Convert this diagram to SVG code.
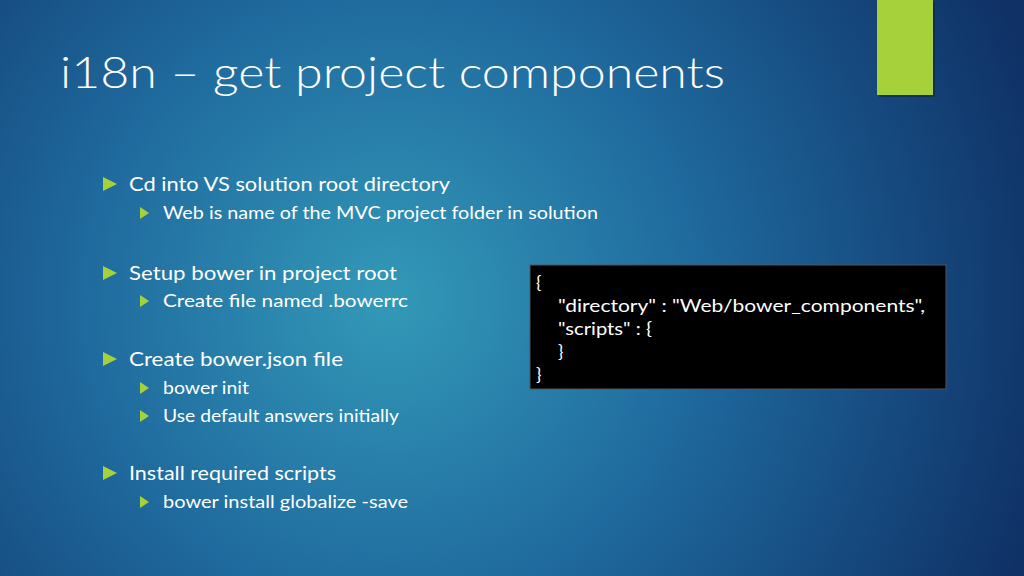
<svg xmlns="http://www.w3.org/2000/svg" width="1024" height="576" viewBox="0 0 1024 576">
<defs>
<radialGradient id="bg" cx="390" cy="300" r="680" gradientUnits="userSpaceOnUse">
<stop offset="0" stop-color="#3399b8"/>
<stop offset="0.45" stop-color="#1f6a9e"/>
<stop offset="1" stop-color="#0f3166"/>
</radialGradient>
<style>
.t{font-family:"Lato","Liberation Sans",sans-serif;fill:#fff}
.l1{font-size:20px}
.l2{font-size:17px}
.code{font-family:"Lato","Liberation Sans",sans-serif;font-size:18px;fill:#fff}
.b{fill:#a6d13a}
</style>
</defs>
<rect width="1024" height="576" fill="url(#bg)"/>
<rect x="879" y="2" width="56" height="95" fill="#000" opacity="0.25"/>
<rect x="877" y="0" width="56" height="95" fill="#a6d13a"/>
<text x="60" y="88" class="t" font-size="44" font-weight="300" fill="#e4ebf3" textLength="665" lengthAdjust="spacingAndGlyphs">i18n – get project components</text>
<g id="bullets">
<polygon class="b" points="103,177 117,184 103,191"/>
<text x="129" y="191" class="t l1" textLength="321" lengthAdjust="spacingAndGlyphs">Cd into VS solution root directory</text>
<polygon class="b" points="140,207 149,213 140,219"/>
<text x="163" y="219" class="t l2" textLength="435" lengthAdjust="spacingAndGlyphs">Web is name of the MVC project folder in solution</text>
<polygon class="b" points="103,266 117,273 103,280"/>
<text x="129" y="280" class="t l1" textLength="268" lengthAdjust="spacingAndGlyphs">Setup bower in project root</text>
<polygon class="b" points="140,295 149,301 140,307"/>
<text x="163" y="307" class="t l2" textLength="245" lengthAdjust="spacingAndGlyphs">Create file named .bowerrc</text>
<polygon class="b" points="103,352 117,359 103,366"/>
<text x="129" y="366" class="t l1" textLength="214" lengthAdjust="spacingAndGlyphs">Create bower.json file</text>
<polygon class="b" points="140,382 149,388 140,394"/>
<text x="163" y="394" class="t l2" textLength="86" lengthAdjust="spacingAndGlyphs">bower init</text>
<polygon class="b" points="140,410 149,416 140,422"/>
<text x="163" y="422" class="t l2" textLength="236" lengthAdjust="spacingAndGlyphs">Use default answers initially</text>
<polygon class="b" points="103,466 117,473 103,480"/>
<text x="129" y="480" class="t l1" textLength="207" lengthAdjust="spacingAndGlyphs">Install required scripts</text>
<polygon class="b" points="140,496 149,502 140,508"/>
<text x="163" y="508" class="t l2" textLength="245" lengthAdjust="spacingAndGlyphs">bower install globalize -save</text>
</g>
<g id="codebox">
<rect x="530" y="265" width="416" height="124" fill="#000" stroke="#555" stroke-width="1"/>
<text x="536" y="289" class="code">{</text>
<text x="558" y="312" class="code" textLength="367" lengthAdjust="spacingAndGlyphs">"directory" : "Web/bower_components",</text>
<text x="558" y="335" class="code" textLength="94" lengthAdjust="spacingAndGlyphs">"scripts" : {</text>
<text x="558" y="358" class="code">}</text>
<text x="536" y="381" class="code">}</text>
</g>
</svg>
